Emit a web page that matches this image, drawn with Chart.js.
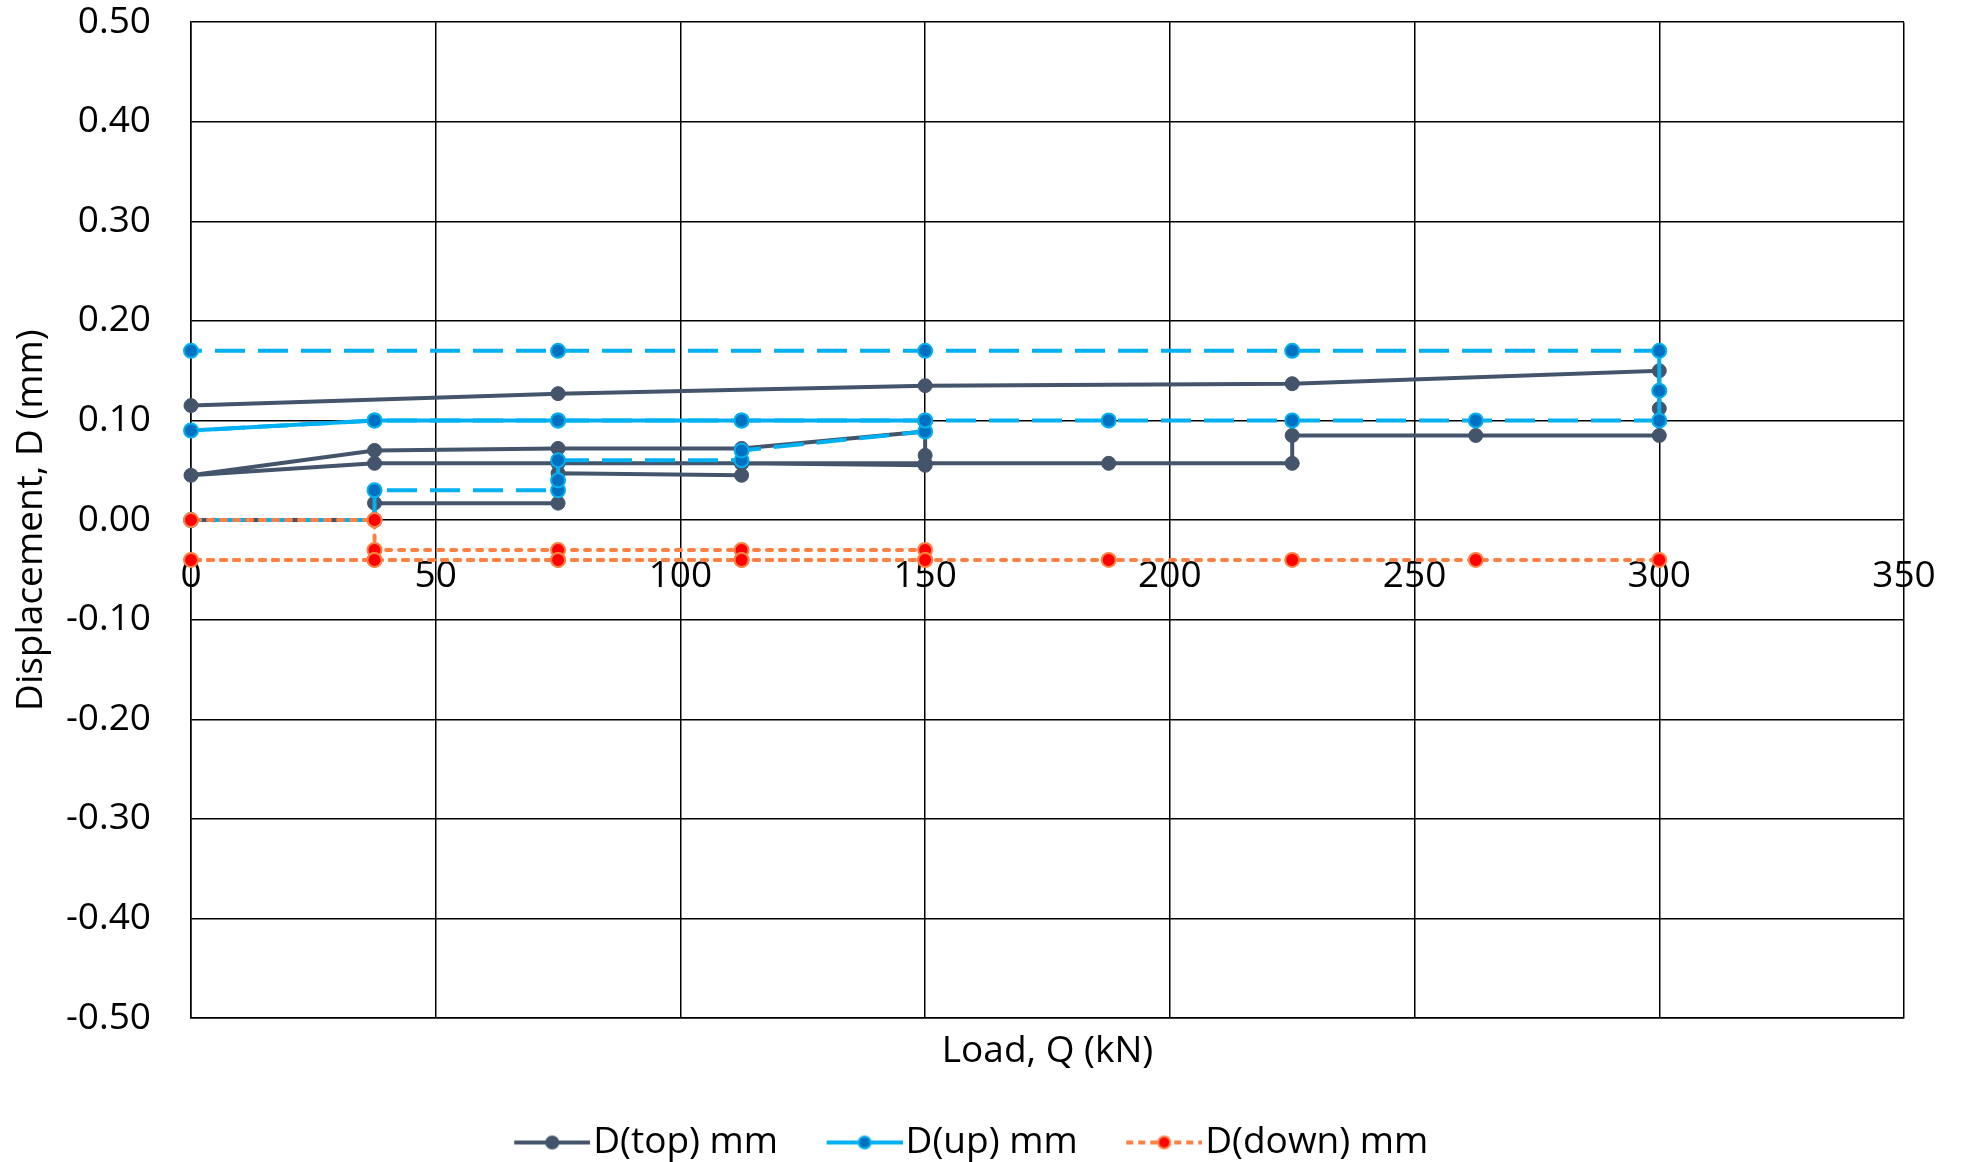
<!DOCTYPE html>
<html>
<head>
<meta charset="utf-8">
<title>Displacement vs load</title>
<script src="https://cdn.jsdelivr.net/npm/chart.js@4.4.1/dist/chart.umd.min.js"></script>
<style>
  html, body { margin: 0; padding: 0; background: #fff; }
  #wrap { width: 1961px; height: 1162px; position: relative; }
</style>
</head>
<body>
<div id="wrap"><canvas id="chart"></canvas></div>
<script>
// readings in the order they were taken (load in kN, displacement in mm)
const topLoad = [0, 37.5, 37.5, 75, 75, 112.5, 112.5, 150, 150, 150, 112.5, 75, 37.5, 0, 37.5, 75, 112.5, 150, 187.5, 225, 225, 262.5, 300, 300, 300, 225, 150, 75, 0];
const topDisp = [0, 0, 0.017, 0.017, 0.047, 0.045, 0.057, 0.055, 0.065, 0.089, 0.072, 0.072, 0.070, 0.045, 0.057, 0.057, 0.057, 0.057, 0.057, 0.057, 0.085, 0.085, 0.085, 0.112, 0.150, 0.137, 0.135, 0.127, 0.115];

const upLoad = [0, 37.5, 37.5, 75, 75, 75, 112.5, 112.5, 150, 150, 112.5, 75, 37.5, 0, 37.5, 75, 112.5, 150, 187.5, 225, 262.5, 300, 300, 300, 225, 150, 75, 0];
const upDisp = [0, 0, 0.03, 0.03, 0.04, 0.06, 0.06, 0.07, 0.089, 0.10, 0.10, 0.10, 0.10, 0.09, 0.10, 0.10, 0.10, 0.10, 0.10, 0.10, 0.10, 0.10, 0.13, 0.17, 0.17, 0.17, 0.17, 0.17];

const downLoad = [0, 37.5, 37.5, 75, 112.5, 150, 150, 112.5, 75, 37.5, 0, 37.5, 75, 112.5, 150, 187.5, 225, 262.5, 300];
const downDisp = [0, 0, -0.03, -0.03, -0.03, -0.03, -0.04, -0.04, -0.04, -0.04, -0.04, -0.04, -0.04, -0.04, -0.04, -0.04, -0.04, -0.04, -0.04];

const seriesNames = ['D(top) mm', 'D(up) mm', 'D(down) mm'];
const xTicks = [0, 50, 100, 150, 200, 250, 300, 350];
const yTicks = [-0.5, -0.4, -0.3, -0.2, -0.1, 0, 0.1, 0.2, 0.3, 0.4, 0.5];

const toPoints = (xs, ys) => xs.map((x, i) => ({ x: x, y: ys[i] }));

// --- styling ---
const FONT = { family: "'Open Sans', 'Noto Sans', sans-serif", size: 37 };
const GREY = '#44546A';
const CYAN = '#00B0F0';
const BLUE = '#0070C0';
const ORANGE = '#FF8040';
const RED = '#FF0000';
const upSolidSpan = [9, 13]; // unloading of the first cycle is drawn solid
const UP_DASH = [30, 13];
const DOWN_DASH = [5, 8];

// keep dash phase tied to the x pixel so runs drawn back and forth overlap cleanly
function dashOffset(ctx, dash) {
    const period = dash[0] + dash[1];
    const x0 = ctx.p0.x, x1 = ctx.p1.x;
    const m = v => ((v % period) + period) % period;
    return x1 >= x0 ? m(x0) : m(dash[0] - x0);
}

// legend sample: line with a marker in the middle (transparent space on the left for spacing)
function makeIcon(lineColor, dash, fill, stroke) {
    const c = document.createElement('canvas');
    c.width = 130; c.height = 22;
    const g = c.getContext('2d');
    const x0 = 54, x1 = 130, cy = 11;
    g.strokeStyle = lineColor;
    g.lineWidth = 4;
    g.setLineDash(dash);
    g.beginPath(); g.moveTo(x0, cy); g.lineTo(x1, cy); g.stroke();
    g.setLineDash([]);
    g.beginPath(); g.arc((x0 + x1) / 2, cy, 6, 0, Math.PI * 2);
    g.fillStyle = fill; g.fill();
    g.lineWidth = 2; g.strokeStyle = stroke; g.stroke();
    return c;
}
const legendIcons = [
    makeIcon(GREY, [], GREY, GREY),
    makeIcon(CYAN, [], BLUE, CYAN),
    makeIcon(ORANGE, [7, 5], RED, ORANGE)
];

new Chart(document.getElementById('chart'), {
    type: 'scatter',
    data: {
        datasets: [
            {
                label: seriesNames[0],
                data: toPoints(topLoad, topDisp),
                showLine: true,
                borderColor: GREY,
                borderWidth: 4,
                pointRadius: 7,
                pointBackgroundColor: GREY,
                pointBorderColor: GREY,
                pointBorderWidth: 1,
                order: 3,
                clip: false
            },
            {
                label: seriesNames[1],
                data: toPoints(upLoad, upDisp),
                showLine: true,
                borderColor: CYAN,
                borderWidth: 4,
                pointRadius: 7,
                pointBackgroundColor: BLUE,
                pointBorderColor: CYAN,
                pointBorderWidth: 2,
                order: 2,
                clip: false,
                segment: {
                    borderDash: ctx => {
                        if (ctx.p0.parsed.x === ctx.p1.parsed.x) return [];
                        if (ctx.p0DataIndex >= upSolidSpan[0] && ctx.p1DataIndex <= upSolidSpan[1]) return [];
                        return UP_DASH;
                    },
                    borderDashOffset: ctx => dashOffset(ctx, UP_DASH)
                }
            },
            {
                label: seriesNames[2],
                data: toPoints(downLoad, downDisp),
                showLine: true,
                borderColor: ORANGE,
                borderWidth: 4,
                borderCapStyle: 'round',
                borderDash: DOWN_DASH,
                pointRadius: 7,
                pointBackgroundColor: RED,
                pointBorderColor: ORANGE,
                pointBorderWidth: 2,
                order: 1,
                clip: false,
                segment: {
                    borderDashOffset: ctx => dashOffset(ctx, DOWN_DASH)
                }
            }
        ]
    },
    options: {
        responsive: true,
        maintainAspectRatio: false,
        animation: false,
        layout: { padding: { top: 21, right: 57, left: 0, bottom: -9 } },
        plugins: {
            tooltip: { enabled: false },
            legend: {
                position: 'bottom',
                labels: {
                    font: FONT,
                    color: '#000',
                    padding: 10,
                    usePointStyle: true,
                    pointStyleWidth: 99,
                    sort: (a, b) => a.datasetIndex - b.datasetIndex,
                    generateLabels: chart => Chart.defaults.plugins.legend.labels.generateLabels(chart).map(item => {
                        item.pointStyle = legendIcons[item.datasetIndex];
                        return item;
                    })
                }
            }
        },
        scales: {
            x: {
                type: 'linear',
                position: 'bottom',
                min: xTicks[0],
                max: xTicks[xTicks.length - 1],
                afterBuildTicks: s => { s.ticks = xTicks.map(v => ({ value: v })); },
                ticks: { display: false },
                grid: { color: '#000', lineWidth: 1.5, drawTicks: false },
                border: { color: '#000', width: 1.5 },
                title: { display: true, text: 'Load, Q (kN)', font: FONT, color: '#000', padding: { top: 0, bottom: 40 } },
                afterFit: s => { s.height = 96; }
            },
            // tick labels of the load axis sit on the zero line
            x2: {
                type: 'linear',
                axis: 'x',
                position: { y: 0 },
                min: xTicks[0],
                max: xTicks[xTicks.length - 1],
                afterBuildTicks: s => { s.ticks = xTicks.map(v => ({ value: v })); },
                ticks: { font: FONT, color: '#000', padding: 0, maxRotation: 0 },
                grid: { display: true, drawOnChartArea: false, drawTicks: true, tickLength: 34, tickColor: 'rgba(0,0,0,0)', color: 'rgba(0,0,0,0)' },
                border: { display: false }
            },
            y: {
                type: 'linear',
                min: yTicks[0],
                max: yTicks[yTicks.length - 1],
                afterBuildTicks: s => { s.ticks = yTicks.map(v => ({ value: v })); },
                ticks: {
                    font: FONT,
                    color: '#000',
                    padding: 0,
                    callback: v => (Math.abs(v) < 1e-9 ? 0 : v).toFixed(2)
                },
                grid: { color: '#000', lineWidth: 1.5, drawTicks: true, tickLength: 40, tickColor: 'rgba(0,0,0,0)' },
                border: { color: '#000', width: 1.5 },
                title: { display: true, text: 'Displacement, D (mm)', font: FONT, color: '#000', padding: { top: 9, bottom: 0 } },
                afterFit: s => { s.width = 191; }
            }
        }
    }
});
</script>
</body>
</html>
